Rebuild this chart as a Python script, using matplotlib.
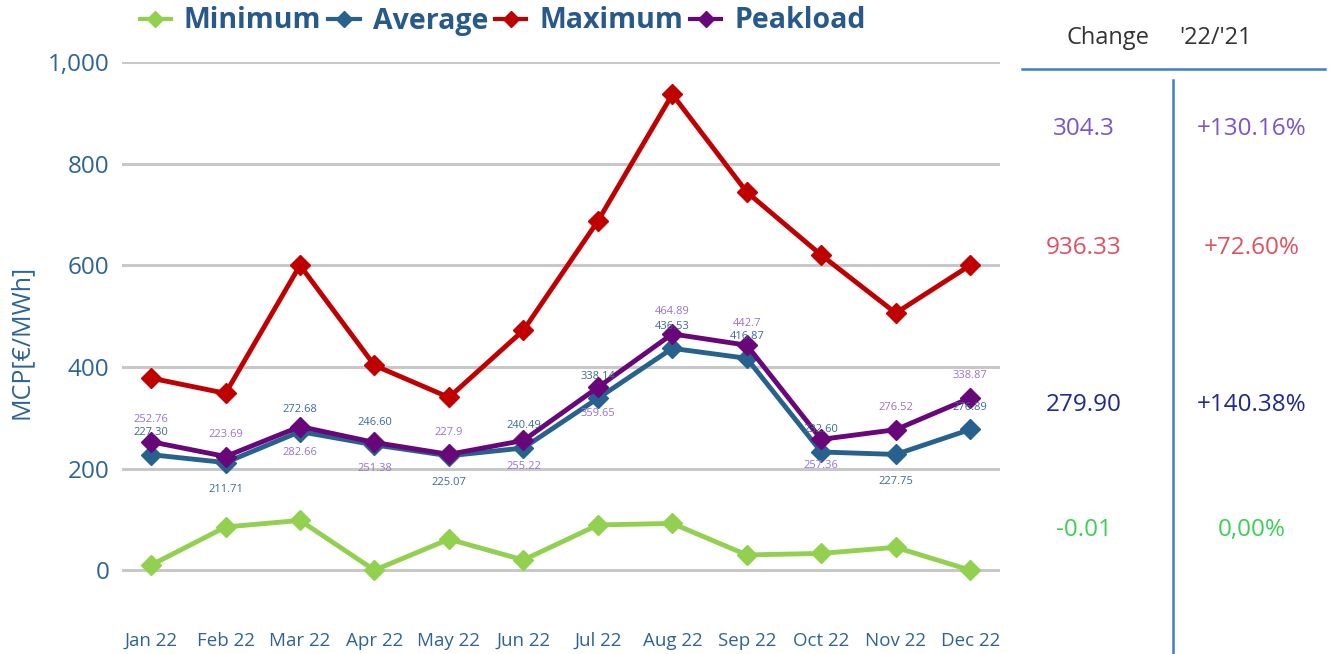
import matplotlib.pyplot as plt
from matplotlib.lines import Line2D
from matplotlib.ticker import FuncFormatter

plt.rcParams['font.family'] = ['Open Sans', 'DejaVu Sans']

# =========================
# DATA
# =========================
months = ["Jan 22", "Feb 22", "Mar 22", "Apr 22", "May 22", "Jun 22",
          "Jul 22", "Aug 22", "Sep 22", "Oct 22", "Nov 22", "Dec 22"]

minimum = [10, 85, 98, 0, 61, 20, 89, 92, 30, 33, 45, 0]
average = [227.30, 211.71, 272.68, 246.60, 225.07, 240.49,
           338.14, 436.53, 416.87, 232.60, 227.75, 276.89]
maximum = [378, 348, 600, 403, 340, 472, 687, 936.33, 744, 620, 506, 600]
peakload = [252.76, 223.69, 282.66, 251.38, 227.9, 255.22,
            359.65, 464.89, 442.7, 257.36, 276.52, 338.87]

avg_labels = ["227.30", "211.71", "272.68", "246.60", "225.07", "240.49",
              "338.14", "436.53", "416.87", "232.60", "227.75", "276.89"]
peak_labels = ["252.76", "223.69", "282.66", "251.38", "227.9", "255.22",
               "359.65", "464.89", "442.7", "257.36", "276.52", "338.87"]

# label placement (above / below the point)
avg_side = ["a", "b", "a", "a", "b", "a", "a", "a", "a", "a", "b", "a"]
peak_side = ["a", "a", "b", "b", "a", "b", "b", "a", "a", "b", "a", "a"]

change_values = ["304.3", "936.33", "279.90", "-0.01"]
change_pct = ["+130.16%", "+72.60%", "+140.38%", "0,00%"]
change_colors = ["#7b55c9", "#e0505f", "#1f2a8c", "#3ccf55"]

# =========================
# FIGURE
# =========================
W, H = 1336, 654
fig = plt.figure(figsize=(W / 100, H / 100), dpi=100)
ax = fig.add_axes([122 / W, 1 - 621 / H, (1000 - 122) / W, (621 - 62) / H])

x = list(range(len(months)))

c_min = "#92d050"
c_avg = "#27628f"
c_max = "#c00000"
c_peak = "#68067a"
c_text = "#2d6495"

ax.plot(x, minimum, color=c_min, lw=3.5, marker="D", ms=10, label="Minimum", zorder=3)
ax.plot(x, average, color=c_avg, lw=3.5, marker="D", ms=10, label="Average", zorder=4)
ax.plot(x, maximum, color=c_max, lw=3.5, marker="D", ms=10, label="Maximum", zorder=3)
ax.plot(x, peakload, color=c_peak, lw=3.5, marker="D", ms=10, label="Peakload", zorder=5)

for i in x:
    dy = 22 if avg_side[i] == "a" else -27
    ax.annotate(avg_labels[i], (i, average[i]), textcoords="offset pixels",
                xytext=(0, dy), ha="center", va="center", fontsize=8,
                color="#3a6a96", zorder=6)
    dy = 22 if peak_side[i] == "a" else -26
    ax.annotate(peak_labels[i], (i, peakload[i]), textcoords="offset pixels",
                xytext=(0, dy), ha="center", va="center", fontsize=8,
                color="#9a70d2", zorder=6)

ax.set_xlim(-0.39, 11.4)
ax.set_ylim(-100, 1000)
ax.set_yticks([0, 200, 400, 600, 800, 1000])
ax.yaxis.set_major_formatter(FuncFormatter(lambda v, p: f"{int(v):,}"))
ax.set_xticks(x)
ax.set_xticklabels(months)

ax.grid(axis="y", color="#c8c8c8", lw=2.2)
ax.set_axisbelow(True)
for s in ax.spines.values():
    s.set_visible(False)
ax.tick_params(axis="y", length=0, pad=9, labelsize=17.5, labelcolor=c_text)
ax.tick_params(axis="x", length=0, pad=8, labelsize=13.5, labelcolor=c_text)
ax.set_ylabel("MCP[€/MWh]", fontsize=18, color=c_text, labelpad=10)

handles = [Line2D([0], [0], color=c, lw=3, marker="D", ms=8)
           for c in [c_min, c_avg, c_max, c_peak]]
leg = fig.legend(handles, ["Minimum", "Average", "Maximum", "Peakload"],
                 loc="center left", bbox_to_anchor=(114 / W, 1 - 21 / H),
                 ncol=4, frameon=False, handlelength=1.1, handletextpad=0.45,
                 columnspacing=0.25, prop={"weight": "bold", "size": 20.5})
for t in leg.get_texts():
    t.set_color("#27598a")

# =========================
# RIGHT PANEL
# =========================
def fx(px):
    return px / W

def fy(py):
    return 1 - py / H

fig.text(fx(1108), fy(38), "Change", ha="center", va="center", fontsize=17, color="#333333")
fig.text(fx(1216), fy(38), "'22/'21", ha="center", va="center", fontsize=17, color="#333333")
fig.add_artist(Line2D([fx(1022), fx(1325)], [fy(69), fy(69)], color="#3d7fc4", lw=1.8))
fig.add_artist(Line2D([fx(1173), fx(1173)], [fy(80), fy(654)], color="#3d7fc4", lw=1.8))

row_y = [129, 248, 405, 530]
for v, p, c, yy in zip(change_values, change_pct, change_colors, row_y):
    fig.text(fx(1084), fy(yy), v, ha="center", va="center", fontsize=17.5, color=c)
    fig.text(fx(1252), fy(yy), p, ha="center", va="center", fontsize=17.5, color=c)

fig.savefig("out.png", dpi=100)
